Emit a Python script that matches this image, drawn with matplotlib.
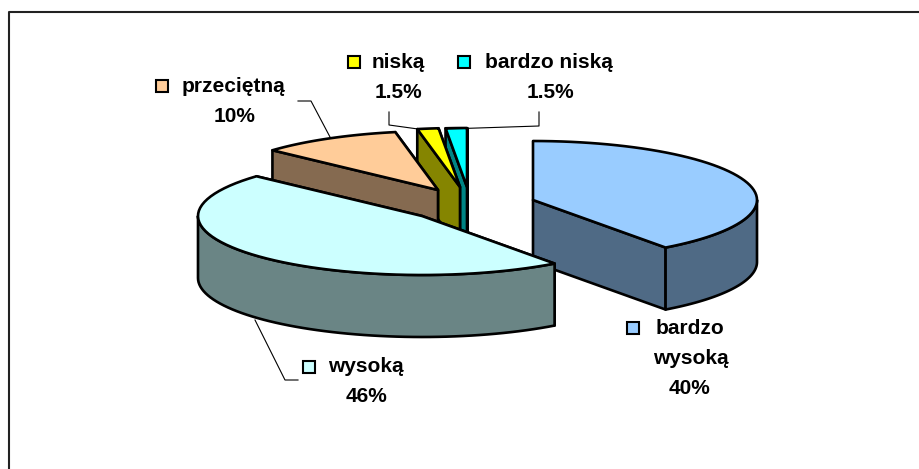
import numpy as np
import matplotlib
matplotlib.use('Agg')
import matplotlib.pyplot as plt
from matplotlib.patches import Polygon, Rectangle

plt.rcParams['font.family'] = ['Liberation Sans', 'DejaVu Sans']

# --- data ---
categories = ['bardzo wysoką', 'wysoką', 'przeciętną', 'niską', 'bardzo niską']
values = [39.2, 46, 10, 1.5, 1.5]  # labels are rounded
value_labels = ['40%', '46%', '10%', '1.5%', '1.5%']

# --- look ---
top_colors = ['#99CCFF', '#CCFFFF', '#FFCC99', '#FFFF00', '#00FFFF']
side_colors = ['#4F6A85', '#6A8585', '#856A50', '#858500', '#008585']
centers = [(533, 200), (422, 216), (438, 190), (460, 187), (467, 187)]  # exploded slices
rx, ry, depth = 224, 59, 62
draw_order = [4, 3, 2, 0, 1]

fig = plt.figure(figsize=(9.2, 4.69), dpi=100)
ax = fig.add_axes([0, 0, 1, 1])
ax.set_xlim(0, 920)
ax.set_ylim(469, 0)
ax.axis('off')


def rim(cx, cy, a0, a1, n=60):
    t = np.linspace(a0, a1, n)
    return np.column_stack([cx + rx * np.sin(t), cy - ry * np.cos(t)])


def face(pts, color, z):
    ax.add_patch(Polygon(pts, closed=True, facecolor=color, edgecolor='black',
                         linewidth=1.9, joinstyle='round', zorder=z))


edges = np.cumsum([0] + values) / np.sum(values) * 2 * np.pi

z = 2
for i in draw_order:
    cx, cy = centers[i]
    a0, a1 = edges[i], edges[i + 1]
    arc = rim(cx, cy, a0, a1)
    apex = np.array([cx, cy])
    low = np.array([0, depth])

    # cut faces, the one further back first
    radials = sorted([arc[0], arc[-1]], key=lambda p: p[1])
    for p in radials:
        face([apex, p, p + low, apex + low], side_colors[i], z)
        z += 1

    # outer wall, only the part facing the viewer
    lo, hi = max(a0, np.pi / 2), min(a1, 3 * np.pi / 2)
    if lo < hi:
        wall = rim(cx, cy, lo, hi)
        face(np.vstack([wall, wall[::-1] + low]), side_colors[i], z)
        z += 1

    face(np.vstack([apex, arc]), top_colors[i], z)
    z += 1

# --- frame, cut by the picture edge on the right and at the bottom ---
ax.plot([9.5, 9.5, 920], [469, 12, 12], color='#222222', lw=1.5, zorder=1)

# --- leader lines ---
lead = dict(color='black', lw=0.8, zorder=z)
ax.plot([298, 311, 330], [101, 101, 137], **lead)
ax.plot([389, 389, 418], [112, 125, 129], **lead)
ax.plot([539, 539, 447], [112, 126, 129], **lead)
ax.plot([255, 285, 298], [320, 380, 380], **lead)

# --- labels ---
txt = dict(fontweight='bold', fontsize=15, color='black', va='center', zorder=z)


def key(x, y, color):
    ax.add_patch(Rectangle((x, y), 12, 12, facecolor=color, edgecolor='black',
                           linewidth=1.5, zorder=z))


key(156, 80, top_colors[2])
ax.text(233, 87, categories[2], ha='center', **txt)
ax.text(235, 116, value_labels[2], ha='center', **txt)

key(348, 56, top_colors[3])
ax.text(398, 62, categories[3], ha='center', **txt)
ax.text(398, 92, value_labels[3], ha='center', **txt)

key(458, 56, top_colors[4])
ax.text(549, 62, categories[4], ha='center', **txt)
ax.text(550, 92, value_labels[4], ha='center', **txt)

key(303, 361, top_colors[1])
ax.text(366, 367, categories[1], ha='center', **txt)
ax.text(367, 397, value_labels[1], ha='center', **txt)

key(627, 322, top_colors[0])
ax.text(690, 328, categories[0].split()[0], ha='center', **txt)
ax.text(691, 358, categories[0].split()[1], ha='center', **txt)
ax.text(690, 388, value_labels[0], ha='center', **txt)

fig.savefig('out.png', dpi=100)
